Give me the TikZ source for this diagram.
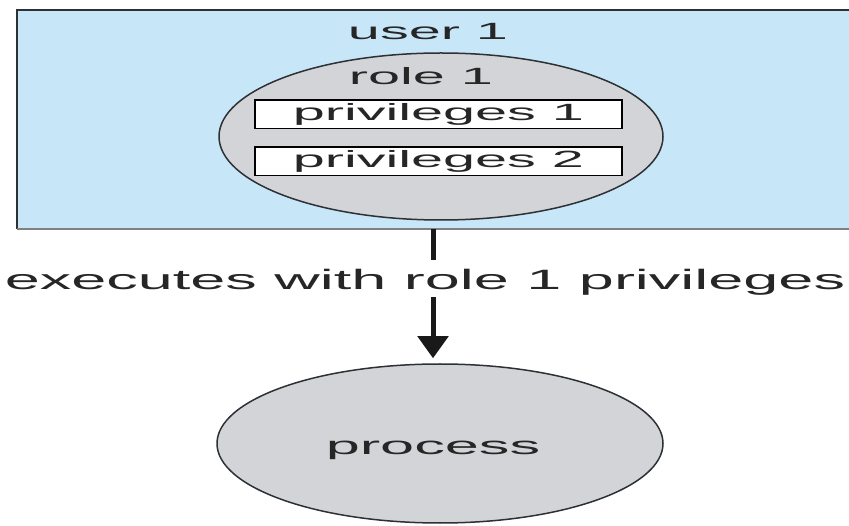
\documentclass[tikz,border=0pt]{standalone}
\usepackage{fontspec}
\setmainfont{Liberation Sans}
\newfontfamily\widefont{Liberation Sans}[FakeStretch=2.45]
\newfontfamily\labelfont{Liberation Sans}[FakeStretch=2.25]
\usetikzlibrary{arrows.meta, positioning, shapes.geometric}
\definecolor{userblue}{RGB}{199,230,248}
\definecolor{rolegray}{RGB}{211,212,215}
\definecolor{edgegray}{RGB}{45,48,52}

\begin{document}
\begin{tikzpicture}[x=1pt, y=1pt,
        userbox/.style={fill=userblue, minimum width=832pt, minimum height=219pt, inner sep=0pt},
        oval/.style={ellipse, draw=edgegray, line width=1.5pt, fill=rolegray, inner sep=0pt},
        privbox/.style={draw=black, line width=1.5pt, fill=white, minimum width=367pt, minimum height=28.5pt, inner sep=0pt, font=\widefont\fontsize{23.5}{28}\selectfont, text=black!85},
        txt/.style={font=\widefont\fontsize{23.5}{28}\selectfont, text=black!85, inner sep=0pt},
        arrow/.style={line width=5pt, draw=black!90}
    ]
        \useasboundingbox (0,0) rectangle (849,525);

        % vung cua nguoi dung (mo ben phai)
        \node[userbox] (user) at (433,405.5) {};
        \draw[edgegray, line width=2.5pt] (user.north east) -- (user.north west) -- (user.south west);
        \draw[gray, line width=1.5pt] (user.south west) -- (user.south east);
        \node[txt, anchor=base] (username) at (428,485) {user 1};

        \node[oval, minimum width=444pt, minimum height=167pt] (role) at (441,388.5) {};
        \node[txt, anchor=base] (rolename) at (421,440) {role 1};
        \node[privbox] (priv1) at (438.5,410.5) {privileges 1};
        \node[privbox, below=17pt of priv1] (priv2) {privileges 2};

        \node[anchor=base, inner sep=0pt, font=\labelfont\fontsize{28}{32}\selectfont, text=black!85] (exec) at (425,235) {executes with role 1 privileges};

        \node[oval, minimum width=446pt, minimum height=159pt] (process) at (440,81.5) {};
        \node[txt, anchor=base, font=\widefont\fontsize{25}{30}\selectfont] (procname) at (433,70) {process};

        \draw[arrow, shorten >=10pt] (user.south) -- (user.south |- exec.north);
        \draw[arrow, -{Triangle[width=30pt, length=22pt]}, shorten <=1pt, shorten >=5pt] (user.south |- exec.south) -- (user.south |- process.north);
    \end{tikzpicture}
\end{document}
